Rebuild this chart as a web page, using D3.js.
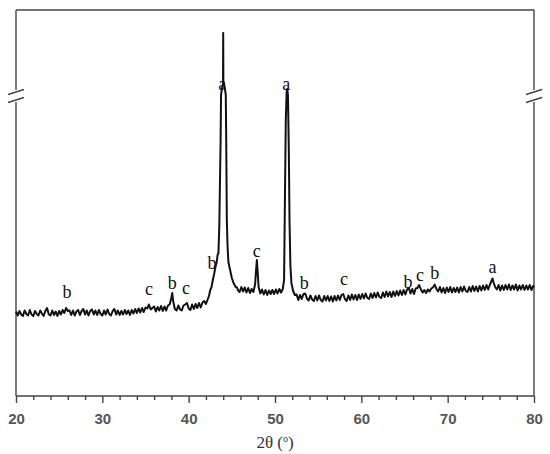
<!DOCTYPE html>
<html>
<head>
<meta charset="utf-8">
<script src="https://cdn.jsdelivr.net/npm/d3@7"></script>
<style>
  body { margin: 0; background: #fff; }
  svg { display: block; }
</style>
</head>
<body>
<svg width="550" height="454"></svg>
<script>
// XRD scan, [2theta (deg), intensity (counts)]
var scan = [
  [20.0,845],[20.2,805],[20.4,850],[20.6,815],[20.8,800],[21.0,855],[21.2,820],[21.4,805],[21.6,860],[21.8,815],
  [22.0,800],[22.2,850],[22.4,820],[22.6,805],[22.8,855],[23.0,825],[23.2,800],[23.4,850],[23.6,880],[23.8,815],
  [24.0,805],[24.2,855],[24.4,810],[24.6,845],[24.8,800],[25.0,850],[25.2,815],[25.4,860],[25.6,830],[25.8,880],
  [26.0,850],[26.2,855],[26.4,810],[26.6,855],[26.8,805],[27.0,845],[27.2,860],[27.4,810],[27.6,850],[27.8,870],
  [28.0,815],[28.2,855],[28.4,805],[28.6,850],[28.8,865],[29.0,815],[29.2,855],[29.4,810],[29.6,860],[29.8,820],
  [30.0,805],[30.2,855],[30.4,815],[30.6,865],[30.8,820],[31.0,805],[31.2,850],[31.4,870],[31.6,815],[31.8,855],
  [32.0,810],[32.2,850],[32.4,815],[32.6,860],[32.8,820],[33.0,855],[33.2,810],[33.4,860],[33.6,825],[33.8,870],
  [34.0,830],[34.2,875],[34.4,835],[34.6,880],[34.8,840],[35.0,885],[35.2,875],[35.4,915],[35.6,865],[35.8,880],
  [36.0,895],[36.2,845],[36.4,890],[36.6,855],[36.8,900],[37.0,850],[37.2,895],[37.4,855],[37.6,905],[37.8,915],
  [38.0,985],[38.1,1030],[38.2,950],[38.4,870],[38.6,855],[38.8,905],[39.0,865],[39.2,855],[39.4,905],[39.6,915],
  [39.8,930],[40.0,875],[40.2,860],[40.4,915],[40.6,870],[40.8,920],[41.0,880],[41.2,930],[41.4,885],[41.6,935],
  [41.8,950],[42.0,920],[42.2,965],[42.35,1000],[42.5,1060],[42.65,1090],[42.8,1160],[42.95,1220],[43.1,1290],
  [43.25,1340],[43.35,1410],[43.45,1430],[43.55,1710],[43.7,2560],[43.75,3010],[43.9,3100],[43.98,3120],
  [44.0,3630],[44.02,3120],[44.15,3100],[44.3,3010],[44.35,2560],[44.42,1760],[44.5,1510],[44.6,1340],
  [44.8,1260],[45.0,1180],[45.2,1130],[45.45,1090],[45.6,1085],[45.7,1060],[45.9,1040],[46.1,1090],[46.3,1045],
  [46.5,1085],[46.7,1035],[46.9,1080],[47.1,1030],[47.3,1070],[47.5,1040],[47.7,1120],[47.8,1250],[47.9,1360],
  [48.0,1230],[48.1,1090],[48.3,1025],[48.5,1065],[48.7,1015],[48.9,1060],[49.1,1010],[49.3,1055],[49.5,1020],
  [49.7,1060],[49.9,1020],[50.1,1065],[50.3,1025],[50.5,1070],[50.7,1035],[50.9,1070],[51.05,1160],[51.15,1960],
  [51.25,2760],[51.35,3040],[51.42,3070],[51.5,3010],[51.6,2460],[51.68,1760],[51.78,1310],[51.9,1130],
  [52.1,1050],[52.3,1010],[52.5,1015],[52.7,960],[52.9,1010],[53.1,970],[53.3,1020],[53.5,1025],[53.7,975],
  [53.9,955],[54.1,1005],[54.3,965],[54.5,950],[54.7,1000],[54.9,955],[55.1,1005],[55.3,960],[55.5,945],[55.7,1000],
  [55.9,955],[56.1,1000],[56.3,950],[56.5,995],[56.7,945],[56.9,1000],[57.1,955],[57.3,1005],[57.5,960],[57.7,1010],
  [57.9,1020],[58.1,970],[58.3,950],[58.5,1005],[58.7,960],[58.9,1015],[59.1,965],[59.3,1010],[59.5,960],[59.7,1015],
  [59.9,970],[60.1,1020],[60.3,975],[60.5,1025],[60.7,980],[60.9,970],[61.1,1025],[61.3,980],[61.5,1030],[61.7,985],
  [61.9,1035],[62.1,990],[62.3,980],[62.5,1035],[62.7,990],[62.9,1045],[63.1,995],[63.3,1040],[63.5,990],
  [63.7,1045],[63.9,1000],[64.1,1050],[64.3,1005],[64.5,1055],[64.7,1010],[64.9,1060],[65.1,1015],[65.3,1065],
  [65.5,1080],[65.7,1025],[65.9,1070],[66.1,1020],[66.3,1075],[66.5,1080],[66.7,1110],[66.9,1065],[67.1,1035],
  [67.3,1060],[67.5,1030],[67.7,1065],[67.9,1045],[68.1,1075],[68.3,1085],[68.5,1115],[68.7,1070],[68.9,1045],
  [69.1,1090],[69.3,1035],[69.5,1080],[69.7,1030],[69.9,1085],[70.1,1040],[70.3,1090],[70.5,1035],[70.7,1080],
  [70.9,1040],[71.1,1085],[71.3,1035],[71.5,1090],[71.7,1045],[71.9,1095],[72.1,1050],[72.3,1040],[72.5,1090],
  [72.7,1045],[72.9,1100],[73.1,1050],[73.3,1095],[73.5,1045],[73.7,1100],[73.9,1055],[74.1,1105],[74.3,1060],
  [74.5,1110],[74.7,1065],[74.9,1115],[75.1,1155],[75.2,1175],[75.3,1140],[75.5,1090],[75.7,1065],[75.9,1110],
  [76.1,1055],[76.3,1105],[76.5,1060],[76.7,1110],[76.9,1065],[77.1,1115],[77.3,1060],[77.5,1105],[77.7,1065],
  [77.9,1115],[78.1,1055],[78.3,1105],[78.5,1065],[78.7,1110],[78.9,1060],[79.1,1105],[79.3,1065],[79.5,1110],
  [79.7,1060],[79.9,1100],[80.0,1085]
];

// phase labels: letter, 2theta, height of label baseline (counts)
var peakPhase  = ["b","c","b","c","b","a","c","a","b","c","b","c","b","a"];
var peakAngle  = [25.9,35.4,38.1,39.7,42.7,43.9,47.9,51.3,53.4,58.0,65.4,66.8,68.5,75.2];
var peakLabelY = [983,1015,1070,1025,1270,3065,1395,3065,1073,1115,1083,1148,1170,1235];

var xTicks = [20,30,40,50,60,70,80];
var xMinor = [22,24,26,28,32,34,36,38,42,44,46,48,52,54,56,58,62,64,66,68,72,74,76,78];
var axisBreak = [2960, 3040]; // y-axis break (counts)

var svg = d3.select("svg"),
    plotL = 16, plotR = 534, plotT = 10, plotB = 396;

var x = d3.scaleLinear().domain([20, 80]).range([plotL, plotR]);
var y = d3.scaleLinear().domain([0, 3860]).range([plotB, plotT]);

// frame
var frame = svg.append("g").attr("stroke", "#444").attr("stroke-width", 1.4);
frame.append("line").attr("x1", plotL).attr("x2", plotR).attr("y1", plotT).attr("y2", plotT);
frame.append("line").attr("x1", plotL).attr("x2", plotR).attr("y1", plotB).attr("y2", plotB);
[plotL, plotR].forEach(function(px) {
    frame.append("line").attr("x1", px).attr("x2", px).attr("y1", plotT).attr("y2", y(axisBreak[1]) - 2);
    frame.append("line").attr("x1", px).attr("x2", px).attr("y1", y(axisBreak[0]) + 2).attr("y2", plotB);
    axisBreak.forEach(function(v) {
        frame.append("line")
            .attr("x1", px - 8).attr("y1", y(v) + 2.5)
            .attr("x2", px + 8).attr("y2", y(v) - 2.5);
    });
});

// x axis
var minorAxis = svg.append("g")
    .attr("transform", "translate(0," + plotB + ")")
    .call(d3.axisBottom(x).tickValues(xMinor).tickSize(4).tickFormat(""));
var majorAxis = svg.append("g")
    .attr("transform", "translate(0," + plotB + ")")
    .call(d3.axisBottom(x).tickValues(xTicks).tickSize(7).tickPadding(10).tickFormat(d3.format("d")));
[minorAxis, majorAxis].forEach(function(a) {
    a.select(".domain").remove();
    a.selectAll("line").attr("stroke", "#444").attr("stroke-width", 1.4);
});
majorAxis.selectAll("text")
    .attr("font-family", "Liberation Sans, Arial, sans-serif")
    .attr("font-size", 15)
    .attr("font-weight", "bold")
    .attr("fill", "#555");

var title = svg.append("text")
    .attr("x", (plotL + plotR) / 2)
    .attr("y", 448)
    .attr("text-anchor", "middle")
    .attr("font-family", "Liberation Serif, Times New Roman, serif")
    .attr("font-size", 17)
    .attr("fill", "#333");
title.append("tspan").text("2θ (");
title.append("tspan").attr("font-size", 10).attr("dy", -6).text("o");
title.append("tspan").attr("dy", 6).text(")");

// pattern
var line = d3.line()
    .x(function(d) { return x(d[0]); })
    .y(function(d) { return y(d[1]); });

svg.append("path")
    .datum(scan)
    .attr("fill", "none")
    .attr("stroke", "#111")
    .attr("stroke-width", 2)
    .attr("stroke-linejoin", "round")
    .attr("d", line);

// phase letters
svg.append("g").selectAll("text")
    .data(peakPhase)
    .enter().append("text")
    .attr("x", function(d, i) { return x(peakAngle[i]); })
    .attr("y", function(d, i) { return y(peakLabelY[i]); })
    .attr("text-anchor", "middle")
    .attr("font-family", "Liberation Serif, Times New Roman, serif")
    .attr("font-size", 18)
    .attr("fill", "#111")
    .text(function(d) { return d; });
</script>
</body>
</html>
